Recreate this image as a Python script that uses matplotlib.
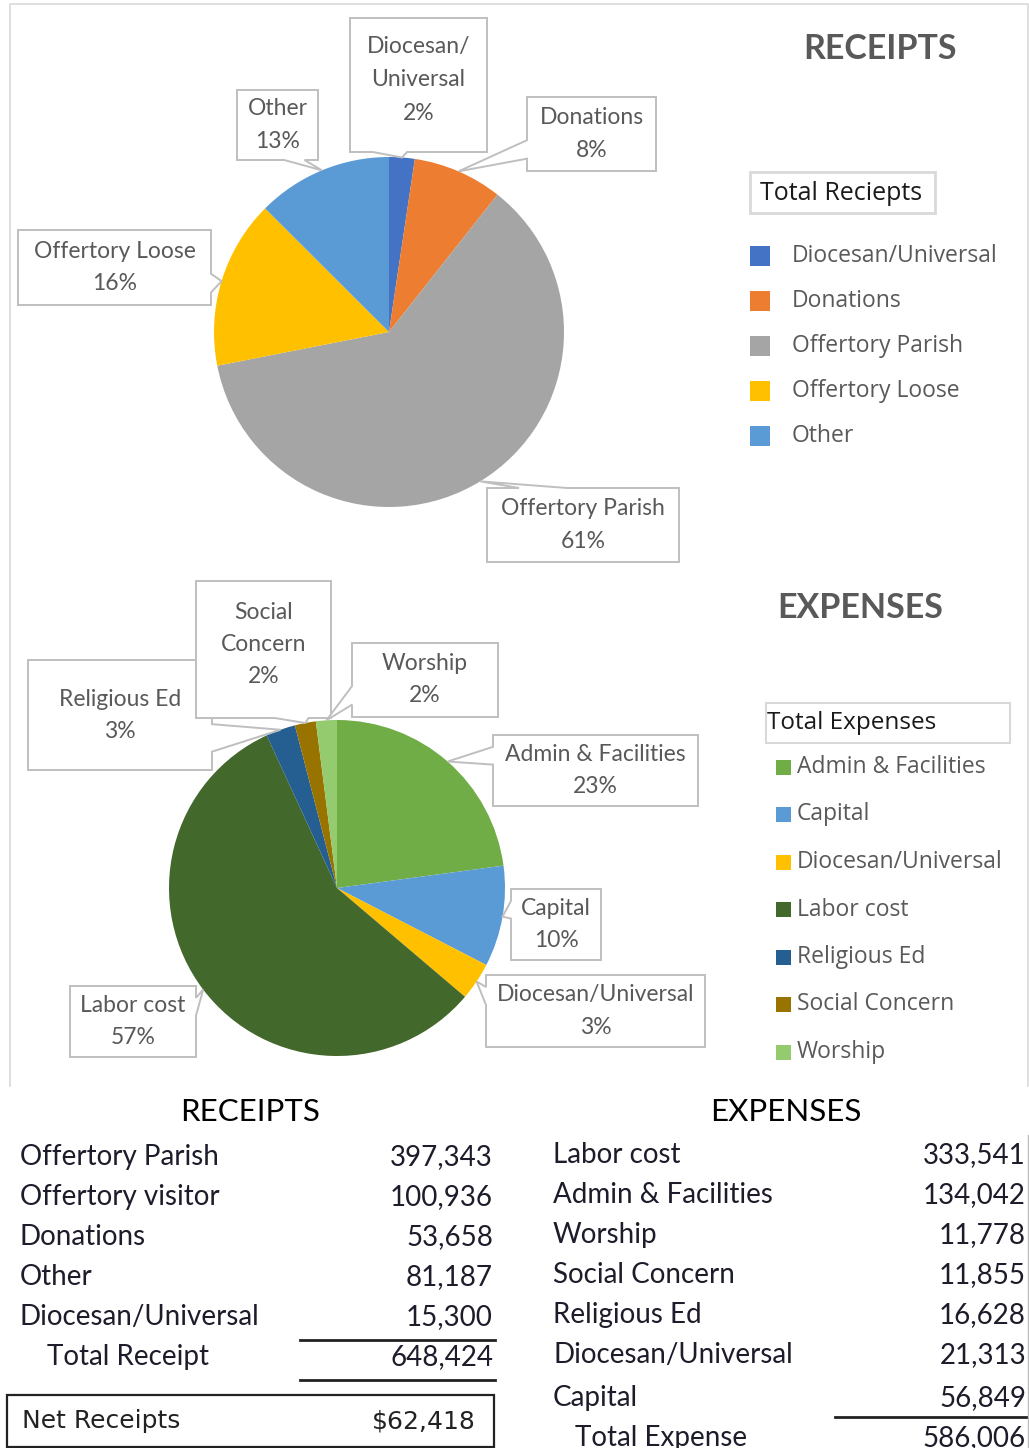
import numpy as np
import matplotlib.pyplot as plt
from matplotlib.patches import Polygon, Rectangle

# ---------------------------------------------
# Pie data
# ---------------------------------------------
rec_cats = ['Diocesan/Universal', 'Donations', 'Offertory Parish', 'Offertory Loose', 'Other']
rec_vals = [15300, 53658, 397343, 100936, 81187]
rec_colors = ['#4472C4', '#ED7D31', '#A5A5A5', '#FFC000', '#5B9BD5']
rec_callouts = ['Diocesan/\nUniversal', 'Donations', 'Offertory Parish', 'Offertory Loose', 'Other']

exp_cats = ['Admin & Facilities', 'Capital', 'Diocesan/Universal', 'Labor cost',
            'Religious Ed', 'Social Concern', 'Worship']
exp_vals = [134042, 56849, 21313, 333541, 16628, 11855, 11778]
exp_colors = ['#70AD47', '#5B9BD5', '#FFC000', '#43682B', '#255E91', '#997300', '#93CB6E']
exp_callouts = ['Admin & Facilities', 'Capital', 'Diocesan/Universal', 'Labor cost',
                'Religious Ed', 'Social\nConcern', 'Worship']

# ---------------------------------------------
# Table data
# ---------------------------------------------
rec_rows = ['Offertory Parish', 'Offertory visitor', 'Donations', 'Other', 'Diocesan/Universal']
rec_amounts = [397343, 100936, 53658, 81187, 15300]
exp_rows = ['Labor cost', 'Admin & Facilities', 'Worship', 'Social Concern',
            'Religious Ed', 'Diocesan/Universal', 'Capital']
exp_amounts = [333541, 134042, 11778, 11855, 16628, 21313, 56849]

# callout boxes (pixels: x0, y0, x1, y1)
rec_boxes = [(350, 18, 487, 152), (527, 97, 656, 171), (487, 488, 679, 562),
             (18, 230, 211, 305), (237, 90, 318, 160)]
exp_boxes = [(493, 735, 698, 806), (511, 889, 601, 960), (486, 975, 705, 1047),
             (70, 986, 196, 1057), (28, 660, 212, 770), (196, 581, 331, 718),
             (352, 643, 498, 717)]

GRAY_TXT = '#595959'
BOX_EDGE = '#BFBFBF'


def pct_labels(vals):
    # Excel-style: percentages rounded so they add to 100
    tot = sum(vals)
    raw = [100 * v / tot for v in vals]
    fl = [int(r) for r in raw]
    left = 100 - sum(fl)
    order = sorted(range(len(raw)), key=lambda i: raw[i] - fl[i], reverse=True)
    for i in order[:left]:
        fl[i] += 1
    return [f'{p}%' for p in fl]


def callout(ax, box, tip):
    x0, y0, x1, y1 = box
    w, h = x1 - x0, y1 - y0
    cx, cy = (x0 + x1) / 2, (y0 + y1) / 2
    dx, dy = tip[0] - cx, tip[1] - cy
    if abs(dx) / w > abs(dy) / h:
        b = (y0 + h * 2 / 12, y0 + h * 5 / 12) if dy < 0 else (y0 + h * 7 / 12, y0 + h * 10 / 12)
        if dx > 0:
            pts = [(x0, y0), (x1, y0), (x1, b[0]), tip, (x1, b[1]), (x1, y1), (x0, y1)]
        else:
            pts = [(x0, y0), (x1, y0), (x1, y1), (x0, y1), (x0, b[1]), tip, (x0, b[0])]
    else:
        b = (x0 + w * 2 / 12, x0 + w * 5 / 12) if dx < 0 else (x0 + w * 7 / 12, x0 + w * 10 / 12)
        if dy > 0:
            pts = [(x0, y0), (x1, y0), (x1, y1), (b[1], y1), tip, (b[0], y1), (x0, y1)]
        else:
            pts = [(x0, y0), (b[0], y0), tip, (b[1], y0), (x1, y0), (x1, y1), (x0, y1)]
    ax.add_patch(Polygon(pts, closed=True, facecolor='white', edgecolor=BOX_EDGE,
                         lw=1.4, zorder=5))


def draw_pie(ax, vals, colors, names, boxes, center, radius, step):
    wedges, _ = ax.pie(vals, colors=colors, startangle=-90, counterclock=True,
                       center=center, radius=radius, frame=True,
                       wedgeprops=dict(linewidth=0))
    pcts = pct_labels(vals)
    for w, name, pct, box in zip(wedges, names, pcts, boxes):
        mid = np.deg2rad((w.theta1 + w.theta2) / 2)
        tip = (center[0] + radius * np.cos(mid), center[1] + radius * np.sin(mid))
        callout(ax, box, tip)
        lines = name.split('\n') + [pct]
        bx = (box[0] + box[2]) / 2
        by = (box[1] + box[3]) / 2
        if len(lines) == 3 and box[3] - box[1] > 130:
            by -= 5
        n = len(lines)
        for i, ln in enumerate(lines):
            ax.text(bx, by + (i - (n - 1) / 2) * step, ln, ha='center', va='center',
                    fontsize=16.5, family='Lato', color=GRAY_TXT, zorder=6)


fig = plt.figure(figsize=(10.29, 14.48), dpi=100)
ax = fig.add_axes([0, 0, 1, 1])

draw_pie(ax, rec_vals, rec_colors, rec_callouts, rec_boxes, (389, 332), 175, 33)
draw_pie(ax, exp_vals, exp_colors, exp_callouts, exp_boxes, (337, 888), 168, 32)

ax.set_xlim(0, 1029)
ax.set_ylim(1448, 0)
ax.set_aspect('auto')
ax.axis('off')

# chart frame (top, left, right)
ax.plot([9.5, 9.5, 1027.5, 1027.5], [1086, 3.5, 3.5, 1086], color='#D9D9D9', lw=1.2)

# titles
ax.text(880, 49, 'RECEIPTS', ha='center', va='center', fontsize=24.5, weight='bold',
        family='Lato', color=GRAY_TXT)
ax.text(860, 608, 'EXPENSES', ha='center', va='center', fontsize=24.5, weight='bold',
        family='Lato', color=GRAY_TXT)

# legends
ax.add_patch(Rectangle((750, 172), 185, 41, fill=False, edgecolor='#D9D9D9', lw=2))
ax.text(760, 194, 'Total Reciepts', ha='left', va='center', fontsize=18,
        family='Open Sans', color='#1A1A1A')
for i, (c, col) in enumerate(zip(rec_cats, rec_colors)):
    y = 256 + 45 * i
    ax.add_patch(Rectangle((750, y - 10), 20, 20, facecolor=col, edgecolor='none'))
    ax.text(792, y, c, ha='left', va='center', fontsize=16.5, family='Open Sans',
            color=GRAY_TXT)

ax.add_patch(Rectangle((766, 703), 244, 40, fill=False, edgecolor='#D9D9D9', lw=1.5))
ax.text(767, 723, 'Total Expenses', ha='left', va='center', fontsize=17.5,
        family='Open Sans', color='#1A1A1A')
for i, (c, col) in enumerate(zip(exp_cats, exp_colors)):
    y = 767 + 47.5 * i
    ax.add_patch(Rectangle((776, y - 7.5), 15, 15, facecolor=col, edgecolor='none'))
    ax.text(797, y, c, ha='left', va='center', fontsize=16.5, family='Open Sans',
            color=GRAY_TXT)

# ---------------------------------------------
# Tables
# ---------------------------------------------
TXT = '#1C1C2A'
FS = 20
ax.text(250, 1112, 'RECEIPTS', ha='center', va='center', fontsize=22.5, family='Lato', color='black')
ax.text(786, 1112, 'EXPENSES', ha='center', va='center', fontsize=22.5, family='Lato', color='black')

rec_y = [1157, 1197, 1237, 1277, 1317]
for name, amt, y in zip(rec_rows, rec_amounts, rec_y):
    ax.text(20, y, name, ha='left', va='center', fontsize=FS, family='Lato', color=TXT)
    ax.text(493, y, f'{amt:,}', ha='right', va='center', fontsize=FS, family='Lato', color=TXT)
rec_total = sum(rec_amounts)
ax.text(47, 1357, 'Total Receipt', ha='left', va='center', fontsize=FS, family='Lato', color=TXT)
ax.text(493, 1357, f'{rec_total:,}', ha='right', va='center', fontsize=FS, family='Lato', color=TXT)
ax.plot([300, 495], [1340, 1340], color='#222222', lw=2)
ax.plot([300, 495], [1380, 1380], color='#222222', lw=2)

exp_y = [1155, 1195, 1235, 1275, 1315, 1355, 1398]
for name, amt, y in zip(exp_rows, exp_amounts, exp_y):
    ax.text(553, y, name, ha='left', va='center', fontsize=FS, family='Lato', color=TXT)
    ax.text(1026, y, f'{amt:,}', ha='right', va='center', fontsize=FS, family='Lato', color=TXT)
exp_total = sum(exp_amounts)
ax.text(575, 1438, 'Total Expense', ha='left', va='center', fontsize=FS, family='Lato', color=TXT)
ax.text(1026, 1438, f'{exp_total:,}', ha='right', va='center', fontsize=FS, family='Lato', color=TXT)
ax.plot([835, 1029], [1417, 1417], color='#222222', lw=2)
ax.plot([1027.5, 1027.5], [1135, 1448], color='#BBBBBB', lw=1)

# net receipts
ax.add_patch(Rectangle((7, 1395), 487, 52, fill=False, edgecolor='#222222', lw=1.6))
ax.text(22, 1421, 'Net Receipts', ha='left', va='center', fontsize=18,
        family='DejaVu Sans', color='#222222')
ax.text(476, 1421, f'${rec_total - exp_total:,}', ha='right', va='center', fontsize=18,
        family='DejaVu Sans', color='#222222')

fig.savefig('out.png', dpi=100)
